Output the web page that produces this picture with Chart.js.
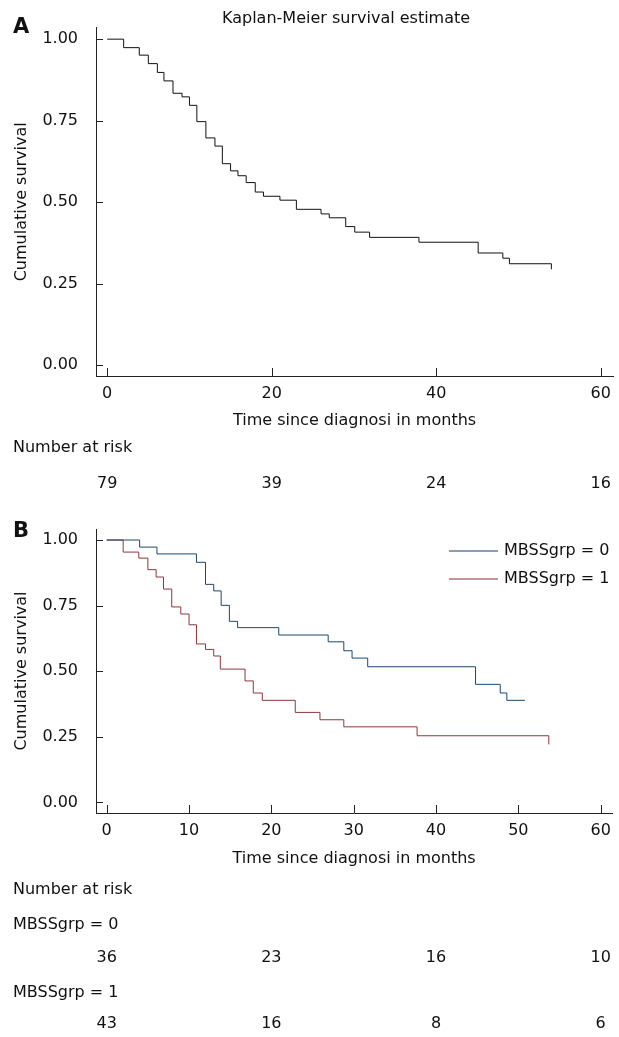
<!DOCTYPE html>
<html>
<head>
<meta charset="utf-8">
<script src="https://cdn.jsdelivr.net/npm/chart.js@4/dist/chart.umd.min.js"></script>
<style>
  html, body { margin: 0; padding: 0; background: #fff; }
  body { width: 619px; height: 1037px; position: relative; overflow: hidden; }
  canvas { position: absolute; left: 0; }
  #chartA { top: 0; }
  #chartB { top: 500px; }
</style>
</head>
<body>
<canvas id="chartA" width="619" height="500"></canvas>
<canvas id="chartB" width="619" height="537"></canvas>
<script>
// Panel A - all patients (months, survival)
const timeA = [0, 2, 3.9, 5, 6.1, 6.9, 8, 9.1, 10, 10.9, 12, 13.1, 14, 15, 15.9, 16.9, 18, 19, 21, 23, 26, 27, 29, 30.1, 31.9, 37.9, 45.1, 48.1, 48.9, 54];
const survA = [1, 0.974, 0.951, 0.925, 0.898, 0.872, 0.834, 0.823, 0.797, 0.747, 0.697, 0.672, 0.618, 0.596, 0.581, 0.560, 0.531, 0.518, 0.506, 0.478, 0.464, 0.452, 0.425, 0.408, 0.392, 0.377, 0.344, 0.328, 0.311, 0.294];

// Panel B - MBSSgrp = 0
const timeB0 = [0, 4, 6.1, 10.9, 12, 13, 13.9, 14.9, 15.9, 20.9, 26.9, 28.8, 29.8, 31.7, 44.8, 47.8, 48.6, 50.8];
const survB0 = [1, 0.973, 0.947, 0.915, 0.831, 0.806, 0.751, 0.690, 0.666, 0.638, 0.612, 0.578, 0.550, 0.517, 0.450, 0.417, 0.389, 0.389];
// Panel B - MBSSgrp = 1
const timeB1 = [0, 2, 3.9, 5, 6, 6.9, 7.9, 9, 10, 10.9, 12, 13, 13.8, 16.8, 17.8, 18.9, 22.9, 25.9, 28.8, 37.7, 53.7];
const survB1 = [1, 0.954, 0.931, 0.887, 0.859, 0.813, 0.745, 0.718, 0.677, 0.604, 0.583, 0.558, 0.508, 0.463, 0.417, 0.389, 0.343, 0.315, 0.288, 0.254, 0.221];

const yTicks = [0, 0.25, 0.5, 0.75, 1];
const xTicksA = [0, 20, 40, 60];
const xTicksB = [0, 10, 20, 30, 40, 50, 60];

const riskTimes = [0, 20, 40, 60];
const riskA = [79, 39, 24, 16];
const riskB0 = [36, 23, 16, 10];
const riskB1 = [43, 16, 8, 6];

const groupLabels = ['MBSSgrp = 0', 'MBSSgrp = 1'];
const groupColors = ['#1a476f', '#90353b'];

const FONT = 'DejaVu Sans';
const AXIS = '#222';

function pts(t, s) {
    return t.map((v, i) => ({ x: v, y: s[i] }));
}

// tick marks point inwards, like the Stata graph
const innerTicks = {
    id: 'innerTicks',
    afterDraw(chart) {
        const { ctx, chartArea, scales: { x, y } } = chart;
        ctx.save();
        ctx.strokeStyle = AXIS;
        ctx.lineWidth = 1;
        ctx.beginPath();
        y.ticks.forEach(t => {
            const py = Math.round(y.getPixelForValue(t.value)) + 0.5;
            ctx.moveTo(chartArea.left, py);
            ctx.lineTo(chartArea.left + 7, py);
        });
        x.ticks.forEach(t => {
            const px = Math.round(x.getPixelForValue(t.value)) + 0.5;
            ctx.moveTo(px, chartArea.bottom);
            ctx.lineTo(px, chartArea.bottom - 8);
        });
        ctx.stroke();
        ctx.restore();
    }
};

function makeChart(id, datasets, o) {
    const extras = {
        id: 'extras',
        afterDraw(chart) {
            const ctx = chart.ctx;
            ctx.save();
            o.draw(chart, ctx);
            ctx.restore();
        }
    };
    return new Chart(document.getElementById(id), {
        type: 'line',
        data: { datasets: datasets },
        options: {
            responsive: false,
            animation: false,
            events: [],
            layout: { padding: { left: 0, top: o.top, right: o.right, bottom: 0 } },
            plugins: { legend: { display: false }, tooltip: { enabled: false } },
            elements: { point: { radius: 0 }, line: { tension: 0 } },
            scales: {
                x: {
                    type: 'linear',
                    min: o.xMin,
                    max: o.xMax,
                    afterBuildTicks: s => { s.ticks = o.xTicks.map(v => ({ value: v })); },
                    afterFit: s => { s.height = o.xHeight; },
                    grid: { display: false, drawTicks: false },
                    border: { display: true, color: AXIS, width: 1 },
                    ticks: {
                        color: '#111',
                        padding: 8,
                        maxRotation: 0,
                        font: { family: FONT, size: 16 },
                        callback: v => String(v)
                    },
                    title: {
                        display: true,
                        text: 'Time since diagnosi in months',
                        color: '#111',
                        font: { family: FONT, size: 16 },
                        padding: { top: 0, bottom: o.xTitlePad }
                    }
                },
                y: {
                    type: 'linear',
                    min: o.yMin,
                    max: o.yMax,
                    afterBuildTicks: s => { s.ticks = yTicks.map(v => ({ value: v })); },
                    afterFit: s => { s.width = 96; },
                    grid: { display: false, drawTicks: false },
                    border: { display: true, color: AXIS, width: 1 },
                    ticks: {
                        color: '#111',
                        padding: 18,
                        font: { family: FONT, size: 16 },
                        callback: v => Number(v).toFixed(2)
                    },
                    title: {
                        display: true,
                        text: 'Cumulative survival',
                        color: '#111',
                        font: { family: FONT, size: 16 },
                        padding: { top: 12, bottom: 0 }
                    }
                }
            }
        },
        plugins: [innerTicks, extras]
    });
}

function riskRow(chart, ctx, values, y) {
    const xs = chart.scales.x;
    ctx.textAlign = 'center';
    values.forEach((v, i) => {
        ctx.fillText(String(v), xs.getPixelForValue(riskTimes[i]), y);
    });
}

// Panel A
makeChart('chartA', [{
    data: pts(timeA, survA),
    borderColor: '#111',
    borderWidth: 1,
    stepped: 'before',
    fill: false
}], {
    top: 24, right: 4,
    xMin: -1.36, xMax: 61.5, xTicks: xTicksA,
    yMin: -0.0334, yMax: 1.0355,
    xHeight: 124, xTitlePad: 70,
    draw(chart, ctx) {
        ctx.fillStyle = '#111';
        ctx.textBaseline = 'middle';
        ctx.font = '16px "' + FONT + '"';
        ctx.textAlign = 'left';
        ctx.fillText('Kaplan-Meier survival estimate', 222, 19);
        ctx.fillText('Number at risk', 13, 448);
        riskRow(chart, ctx, riskA, 484);
        ctx.font = 'bold 21px "' + FONT + '"';
        ctx.textAlign = 'left';
        ctx.fillText('A', 13, 28);
    }
});

// Panel B
makeChart('chartB', [
    {
        label: groupLabels[0],
        data: pts(timeB0, survB0),
        borderColor: groupColors[0],
        borderWidth: 1,
        stepped: 'before',
        fill: false
    },
    {
        label: groupLabels[1],
        data: pts(timeB1, survB1),
        borderColor: groupColors[1],
        borderWidth: 1,
        stepped: 'before',
        fill: false
    }
], {
    top: 29, right: 6,
    xMin: -1.3, xMax: 61.4, xTicks: xTicksB,
    yMin: -0.0404, yMax: 1.042,
    xHeight: 224, xTitlePad: 169,
    draw(chart, ctx) {
        ctx.fillStyle = '#111';
        ctx.textBaseline = 'middle';
        ctx.font = '16px "' + FONT + '"';
        // legend
        chart.data.datasets.forEach((ds, i) => {
            const ly = 51 + i * 28;
            ctx.strokeStyle = ds.borderColor;
            ctx.globalAlpha = 0.7;
            ctx.lineWidth = 1.3;
            ctx.beginPath();
            ctx.moveTo(449, ly);
            ctx.lineTo(498, ly);
            ctx.stroke();
            ctx.globalAlpha = 1;
            ctx.textAlign = 'left';
            ctx.fillText(ds.label, 504, ly);
        });
        ctx.textAlign = 'left';
        ctx.fillText('Number at risk', 13, 390);
        ctx.fillText(groupLabels[0], 13, 425);
        riskRow(chart, ctx, riskB0, 458);
        ctx.textAlign = 'left';
        ctx.fillText(groupLabels[1], 13, 493);
        riskRow(chart, ctx, riskB1, 524);
        ctx.font = 'bold 21px "' + FONT + '"';
        ctx.textAlign = 'left';
        ctx.fillText('B', 13, 32);
    }
});
</script>
</body>
</html>
